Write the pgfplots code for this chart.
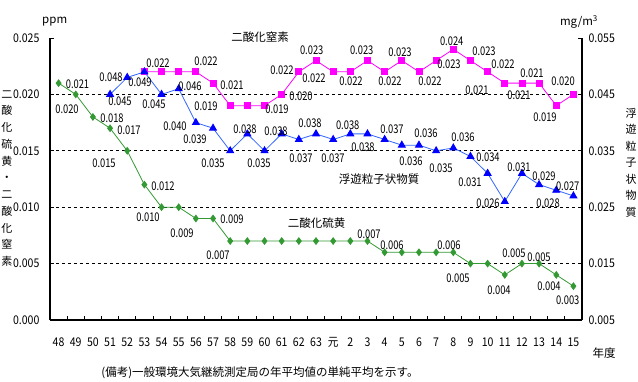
\documentclass[border=0pt]{standalone}
\usepackage{pgfplots}
\pgfplotsset{compat=1.18}
\usepackage{fontspec}
\setmainfont{Noto Sans CJK JP}
\newfontfamily\tickfont[FakeStretch=0.88]{Noto Sans CJK JP}
\newfontfamily\datafont[FakeStretch=0.78]{Noto Sans CJK JP}
\definecolor{so2}{RGB}{51,153,51}
\definecolor{spmline}{RGB}{51,102,255}
\definecolor{no2}{RGB}{255,0,255}
\newcommand{\lab}[3]{\node[font=\fontsize{12}{12}\datafont, inner sep=0pt] at ({#1pt},{382pt-#2pt}) {#3};}
\newcommand{\txt}[3]{\node[font=\fontsize{11.5}{12}\selectfont, inner sep=0pt] at ({#1pt},{382pt-#2pt}) {#3};}
\begin{document}
\begin{tikzpicture}
\useasboundingbox (0,0) rectangle (638pt,382pt);
\begin{axis}[
  at={(50pt,62pt)}, anchor=south west,
  scale only axis, width=532pt, height=282pt,
  xmin=-0.5, xmax=30.5, ymin=0, ymax=0.025,
  scaled y ticks=false,
  axis x line*=bottom, axis y line*=left,
  axis line style={-, line width=1.2pt},
  xtick={0,...,30},
  xticklabels={48,49,50,51,52,53,54,55,56,57,58,59,60,61,62,63,元,2,3,4,5,6,7,8,9,10,11,12,13,14,15},
  major x tick style={draw=none},
  minor xtick={-0.5,0.5,...,30.5},
  minor tick length=4pt,
  minor tick style={black, line width=0.8pt},
  tick align=inside,
  xticklabel style={font=\fontsize{12}{12}\tickfont, anchor=base, yshift=-27pt},
  ytick={0,0.005,0.01,0.015,0.02,0.025},
  yticklabels={0.000,0.005,0.010,0.015,0.020,0.025},
  yticklabel style={font=\fontsize{12}{12}\tickfont, xshift=-7pt},
  major tick length=4pt,
  major tick style={black, line width=0.8pt},
  extra y ticks={0.005,0.01,0.015,0.02},
  extra y tick labels={},
  extra y tick style={grid=major, major grid style={dash pattern=on 3pt off 3pt, black, line width=0.8pt}, major tick length=0pt},
  clip=false,
]
\addplot[color=so2, line width=0.8pt, mark=diamond*, mark size=3.3pt, mark options={fill=so2, draw=so2, solid}] coordinates {
(0,0.021) (1,0.020) (2,0.018) (3,0.017) (4,0.015) (5,0.012) (6,0.010) (7,0.010) (8,0.009) (9,0.009)
(10,0.007) (11,0.007) (12,0.007) (13,0.007) (14,0.007) (15,0.007) (16,0.007) (17,0.007) (18,0.007)
(19,0.006) (20,0.006) (21,0.006) (22,0.006) (23,0.006) (24,0.005) (25,0.005) (26,0.004) (27,0.005)
(28,0.005) (29,0.004) (30,0.003)};
\addplot[color=no2, line width=0.8pt, mark=square*, mark size=3pt, mark options={fill=no2, draw=no2, solid}] coordinates {
(5,0.022) (6,0.022) (7,0.022) (8,0.022) (9,0.021) (10,0.019) (11,0.019) (12,0.019) (13,0.020)
(14,0.022) (15,0.023) (16,0.022) (17,0.022) (18,0.023) (19,0.022) (20,0.023) (21,0.022) (22,0.023)
(23,0.024) (24,0.023) (25,0.022) (26,0.021) (27,0.021) (28,0.021) (29,0.019) (30,0.020)};
\end{axis}
\begin{axis}[
  at={(50pt,62pt)}, anchor=south west,
  scale only axis, width=532pt, height=282pt,
  xmin=-0.5, xmax=30.5, ymin=0.005, ymax=0.055,
  scaled y ticks=false,
  axis x line=none, axis y line*=right,
  axis line style={-, line width=1.2pt},
  ytick={0.005,0.015,0.025,0.035,0.045,0.055},
  yticklabels={0.005,0.015,0.025,0.035,0.045,0.055},
  tick align=inside,
  major tick length=4pt,
  major tick style={black, line width=0.8pt},
  yticklabel style={font=\fontsize{12}{12}\tickfont, xshift=3pt},
  clip=false,
]
\addplot[color=spmline, line width=0.8pt, mark=triangle*, mark size=4pt, mark options={fill=blue, draw=blue, solid}] coordinates {
(3,0.045) (4,0.048) (5,0.049) (6,0.045) (7,0.046) (8,0.040) (9,0.039) (10,0.035) (11,0.038) (12,0.035)
(13,0.038) (14,0.037) (15,0.038) (16,0.037) (17,0.038) (18,0.038) (19,0.037) (20,0.036) (21,0.036)
(22,0.035) (23,0.0355) (24,0.034) (25,0.031) (26,0.026) (27,0.031) (28,0.029) (29,0.028) (30,0.027)};
\end{axis}
% SO2 labels
\lab{77.5}{84.3}{0.021}
\lab{67}{109}{0.020}
\lab{112}{118.3}{0.018}
\lab{129}{130.7}{0.017}
\lab{104}{163.3}{0.015}
\lab{163}{186}{0.012}
\lab{148}{217.7}{0.010}
\lab{182}{233.3}{0.009}
\lab{232}{219.3}{0.009}
\lab{218}{255}{0.007}
\lab{369}{234}{0.007}
\lab{392}{245}{0.006}
\lab{449}{245}{0.006}
\lab{458}{278.3}{0.005}
\lab{499}{290}{0.004}
\lab{514}{253.3}{0.005}
\lab{539}{257.3}{0.005}
\lab{549}{286}{0.004}
\lab{567.7}{300.7}{0.003}
% NO2 labels
\lab{158}{63.3}{0.022}
\lab{206}{61.7}{0.022}
\lab{232}{85}{0.021}
\lab{206}{106.7}{0.019}
\lab{277}{109}{0.019}
\lab{282}{70}{0.022}
\lab{301}{96.7}{0.020}
\lab{311.7}{50.7}{0.023}
\lab{314}{78.3}{0.022}
\lab{351}{81.7}{0.022}
\lab{361.7}{50.7}{0.023}
\lab{390}{81.7}{0.022}
\lab{400}{52.3}{0.023}
\lab{430}{81.7}{0.022}
\lab{449}{64.3}{0.023}
\lab{451.7}{41}{0.024}
\lab{484}{51.7}{0.023}
\lab{503}{64}{0.022}
\lab{477}{90}{0.021}
\lab{519}{95.7}{0.021}
\lab{532}{73.3}{0.021}
\lab{545}{117.3}{0.019}
\lab{563}{81.7}{0.020}
% SPM labels
\lab{111}{77.3}{0.048}
\lab{140}{82.7}{0.049}
\lab{120}{101.7}{0.045}
\lab{154}{104.3}{0.045}
\lab{190}{86.7}{0.046}
\lab{175}{126}{0.040}
\lab{195}{139.3}{0.039}
\lab{213}{163.3}{0.035}
\lab{245}{129.3}{0.038}
\lab{259}{163.3}{0.035}
\lab{276}{131}{0.038}
\lab{301}{158.3}{0.037}
\lab{310}{123.3}{0.038}
\lab{333}{158.3}{0.037}
\lab{347.7}{125}{0.038}
\lab{363}{147.3}{0.038}
\lab{392}{129.3}{0.037}
\lab{411}{161.7}{0.036}
\lab{426}{133.3}{0.036}
\lab{441}{168.3}{0.035}
\lab{463}{137.3}{0.036}
\lab{488}{157.3}{0.034}
\lab{470}{182.3}{0.031}
\lab{519}{167.3}{0.031}
\lab{544}{176}{0.029}
\lab{488}{203.3}{0.026}
\lab{548}{203.3}{0.028}
\lab{567.7}{186}{0.027}
% series names and other text
\txt{260}{37}{二酸化窒素}
\txt{379}{179}{浮遊粒子状物質}
\txt{316.5}{223}{二酸化硫黄}
\node[font=\fontsize{11.5}{12}\selectfont, inner sep=0pt] at (54.7pt,{382pt-22pt}) {ppm};
\node[font=\fontsize{11.5}{12}\selectfont, inner sep=0pt] at (579pt,{382pt-22pt}) {mg/m\textsuperscript{3}};
\txt{604}{353}{年度}
\node[font=\fontsize{11.5}{12}\selectfont, inner sep=0pt] at (260pt,{382pt-373pt}) {(備考)一般環境大気継続測定局の年平均値の単純平均を示す。};
\node[font=\fontsize{11}{16.75}\selectfont, inner sep=0pt, align=center] at (7pt,{382pt-178.5pt}) {二\\酸\\化\\硫\\黄\\・\\二\\酸\\化\\窒\\素};
\node[font=\fontsize{11}{16.5}\selectfont, inner sep=0pt, align=center] at (631pt,{382pt-162.5pt}) {浮\\遊\\粒\\子\\状\\物\\質};
\end{tikzpicture}
\end{document}
